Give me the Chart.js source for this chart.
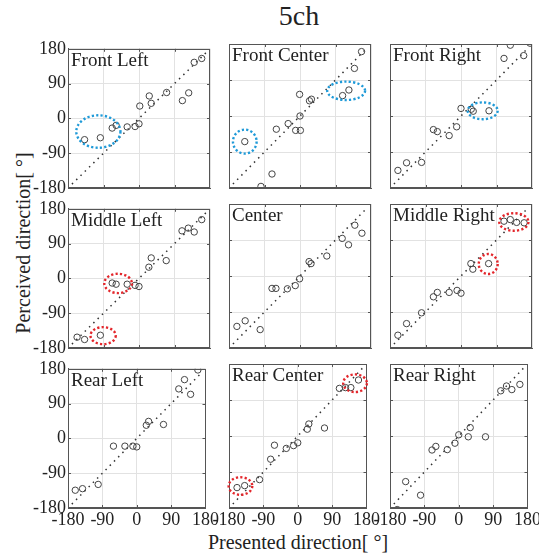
<!DOCTYPE html>
<html>
<head>
<meta charset="utf-8">
<script src="https://cdn.jsdelivr.net/npm/chart.js@4.4.0/dist/chart.umd.min.js"></script>
<style>
  html, body { margin: 0; padding: 0; background: #fff; }
  #page { position: relative; width: 539px; height: 557px; overflow: hidden;
          font-family: 'Liberation Serif', 'Times New Roman', serif; color: #222; }
  #page canvas { position: absolute; }
  .lbl { position: absolute; white-space: nowrap; text-align: center; }
</style>
</head>
<body>
<div id="page">
  <div class="lbl" style="left:249px; top:0px; width:100px; font-size:28px; line-height:32px;">5ch</div>
  <div class="lbl" style="left:198px; top:530px; width:200px; font-size:20px; line-height:24px;">Presented direction[ °]</div>
  <div class="lbl" style="left:-97px; top:231px; width:240px; font-size:20px; line-height:24px; transform:rotate(-90deg);">Perceived direction[ °]</div>
</div>
<script>
// tick values shared by both axes (degrees)
const ticksDeg = [-180, -90, 0, 90, 180];
const diagX = [-170, 170];
const diagY = [-170, 170];

const panelNames = ['Front Left', 'Front Center', 'Front Right',
                    'Middle Left', 'Center', 'Middle Right',
                    'Rear Left', 'Rear Center', 'Rear Right'];

// presented (x) / perceived (y) directions per panel
const flX = [-138, -98, -68, -58, -30, -10, 0, 2, 26, 31, 70, 110, 126, 140, 159];
const flY = [-55, -50, -25, -18, -22, -21, -14, 32, 58, 39, 67, 46, 66, 145, 155];
const fcX = [156, 138, 124, 108, 29, 24, -1, 0, -11, 1, -30, -60, -140, -71, -99];
const fcY = [161, 119, 65, 51, 42, 38, 54, 0, -36, -36, -19, -33, -64, -145, -176];
const frX = [175, 125, 109, 159, 0, 26, 31, 71, -70, -60, -30, -11, -138, -100, -160];
const frY = [182, 177, 144, 151, 19, 17, 12, 13, -34, -39, -49, -27, -117, -116, -136];
const mlX = [-157, -138, -98, -68, -58, -30, -10, 0, 25, 31, 69, 109, 125, 140, 159];
const mlY = [-152, -158, -147, -12, -15, -15, -18, -21, 29, 53, 46, 123, 130, 120, 152];
const cX  = [139, 157, 107, 123, 68, 23, 28, -1, -12, -32, -71, -61, -101, -139, -160];
const cY  = [127, 107, 94, 78, 50, 36, 31, -7, -24, -32, -31, -31, -134, -112, -126];
const mrX = [109, 125, 141, 160, 70, 25, 30, 0, -10, -30, -60, -70, -100, -138, -160];
const mrY = [137, 141, 134, 133, 31, 31, 17, -43, -36, -41, -41, -52, -92, -119, -148];
const rlX = [160, 125, 110, 141, 70, 31, 25, 0, -10, -31, -61, -101, -142, -161];
const rlY = [177, 152, 128, 114, 36, 44, 34, -22, -20, -20, -20, -119, -130, -134];
const rcX = [159, 139, 125, 109, 70, 29, 25, 0, -11, -30, -61, -71, -100, -139, -159];
const rcY = [140, 121, 121, 119, 20, 30, 17, -17, -24, -31, -23, -58, -109, -124, -129];
const rrX = [160, 139, 125, 110, 70, 30, 25, 0, -10, -30, -60, -70, -100, -139, -161];
const rrY = [129, 116, 125, 113, -2, 21, -2, 3, -18, -34, -26, -35, -148, -114, -184];

// highlighted groups: [centre x, centre y, half-width, half-height] in degrees
const flMarks = [[-103, -34, 56, 42]];
const fcMarks = [[-140, -64, 30, 30], [117, 63, 48, 23]];
const frMarks = [[55, 13, 38, 21]];
const mlMarks = [[-53, -13, 35, 25], [-91, -148, 32, 22]];
const mrMarks = [[134, 135, 37, 22], [69, 30, 24, 25]];
const rcMarks = [[-150, -125, 31, 22], [150, 132, 31, 22]];
const markKind = ['blue', 'blue', 'blue', 'red', 'none', 'red', 'none', 'red', 'none'];

const xs = [flX, fcX, frX, mlX, cX, mrX, rlX, rcX, rrX];
const ys = [flY, fcY, frY, mlY, cY, mrY, rlY, rcY, rrY];
const marks = [flMarks, fcMarks, frMarks, mlMarks, [], mrMarks, [], rcMarks, []];

const markColors = { blue: '#1f9ad8', red: '#e3262b' };
const serif = "'Liberation Serif', 'Times New Roman', serif";

// layout of the 3x3 grid
const colLeft = [68, 229, 390];
const rowTop = [44, 204, 364];
const plotW = 142, plotH = 144;
const axisW = 62, axisH = 32, padT = 8, padR = 10;

const panelDecor = {
    id: 'panelDecor',
    afterDraw(chart, args, opts) {
        const ctx = chart.ctx;
        const a = chart.chartArea;
        const sx = chart.scales.x, sy = chart.scales.y;
        ctx.save();
        // frame
        ctx.strokeStyle = '#555';
        ctx.lineWidth = 1;
        ctx.strokeRect(Math.round(a.left) + 0.5, Math.round(a.top) + 0.5,
                       Math.round(a.right - a.left) - 1, Math.round(a.bottom - a.top) - 1);
        // small inward ticks
        ticksDeg.slice(1, -1).forEach(v => {
            const px = Math.round(sx.getPixelForValue(v)) + 0.5;
            const py = Math.round(sy.getPixelForValue(v)) + 0.5;
            ctx.beginPath();
            ctx.moveTo(px, a.bottom); ctx.lineTo(px, a.bottom - 3);
            ctx.moveTo(px, a.top); ctx.lineTo(px, a.top + 3);
            ctx.moveTo(a.left, py); ctx.lineTo(a.left + 3, py);
            ctx.moveTo(a.right, py); ctx.lineTo(a.right - 3, py);
            ctx.stroke();
        });
        // dotted ellipses
        if (opts.kind !== 'none') {
            ctx.strokeStyle = markColors[opts.kind];
            ctx.lineWidth = 2.4;
            ctx.setLineDash([2.2, 2.2]);
            opts.marks.forEach(m => {
                const cx = sx.getPixelForValue(m[0]);
                const cy = sy.getPixelForValue(m[1]);
                const rx = Math.abs(sx.getPixelForValue(m[0] + m[2]) - cx);
                const ry = Math.abs(sy.getPixelForValue(m[1] + m[3]) - cy);
                ctx.beginPath();
                ctx.ellipse(cx, cy, rx, ry, 0, 0, Math.PI * 2);
                ctx.stroke();
            });
            ctx.setLineDash([]);
        }
        // panel name
        ctx.fillStyle = '#222';
        ctx.font = '19px ' + serif;
        ctx.textBaseline = 'alphabetic';
        ctx.fillText(opts.name, a.left + 3, a.top + 17);
        ctx.restore();
    }
};

const page = document.getElementById('page');

function buildPanels() {
    for (let i = 0; i < 9; i++) {
        const r = Math.floor(i / 3), c = i % 3;
        const cv = document.createElement('canvas');
        cv.width = axisW + plotW + padR;
        cv.height = padT + plotH + axisH;
        cv.style.left = (colLeft[c] - axisW) + 'px';
        cv.style.top = (rowTop[r] - padT) + 'px';
        page.appendChild(cv);

        const pts = xs[i].map((x, k) => ({ x: x, y: ys[i][k] }));
        const diag = diagX.map((x, k) => ({ x: x, y: diagY[k] }));

        new Chart(cv, {
            type: 'scatter',
            data: {
                datasets: [{
                    type: 'line',
                    data: diag,
                    borderColor: '#333',
                    borderWidth: 1.5,
                    borderDash: [1.5, 4.5],
                    pointRadius: 0,
                    fill: false,
                    order: 2
                }, {
                    data: pts,
                    pointStyle: 'circle',
                    pointRadius: 3.2,
                    borderWidth: 1,
                    borderColor: '#444',
                    backgroundColor: 'rgba(0,0,0,0)',
                    order: 1
                }]
            },
            options: {
                responsive: false,
                animation: false,
                events: [],
                layout: { padding: { top: padT, right: padR, left: 0, bottom: 0 }, autoPadding: false },
                plugins: {
                    legend: { display: false },
                    tooltip: { enabled: false },
                    panelDecor: { name: panelNames[i], marks: marks[i], kind: markKind[i] }
                },
                scales: {
                    x: {
                        type: 'linear', min: -180, max: 180,
                        afterFit: s => { s.height = axisH; },
                        grid: { color: '#e2e2e2', drawTicks: false },
                        border: { color: '#555' },
                        ticks: {
                            display: r === 2, stepSize: 90, autoSkip: false, maxRotation: 0,
                            padding: 1, color: '#222', font: { family: serif, size: 18 },
                            callback: v => String(v)
                        }
                    },
                    y: {
                        type: 'linear', min: -180, max: 180,
                        afterFit: s => { s.width = axisW; },
                        grid: { color: '#e2e2e2', drawTicks: false },
                        border: { color: '#555' },
                        ticks: {
                            display: c === 0, stepSize: 90, autoSkip: false,
                            padding: 2, color: '#222', font: { family: serif, size: 18 },
                            callback: v => String(v)
                        }
                    }
                }
            },
            plugins: [panelDecor]
        });
    }
}

// canvas text needs the serif face loaded before drawing
document.fonts.load("18px 'Liberation Serif'").then(buildPanels, buildPanels);
</script>
</body>
</html>
